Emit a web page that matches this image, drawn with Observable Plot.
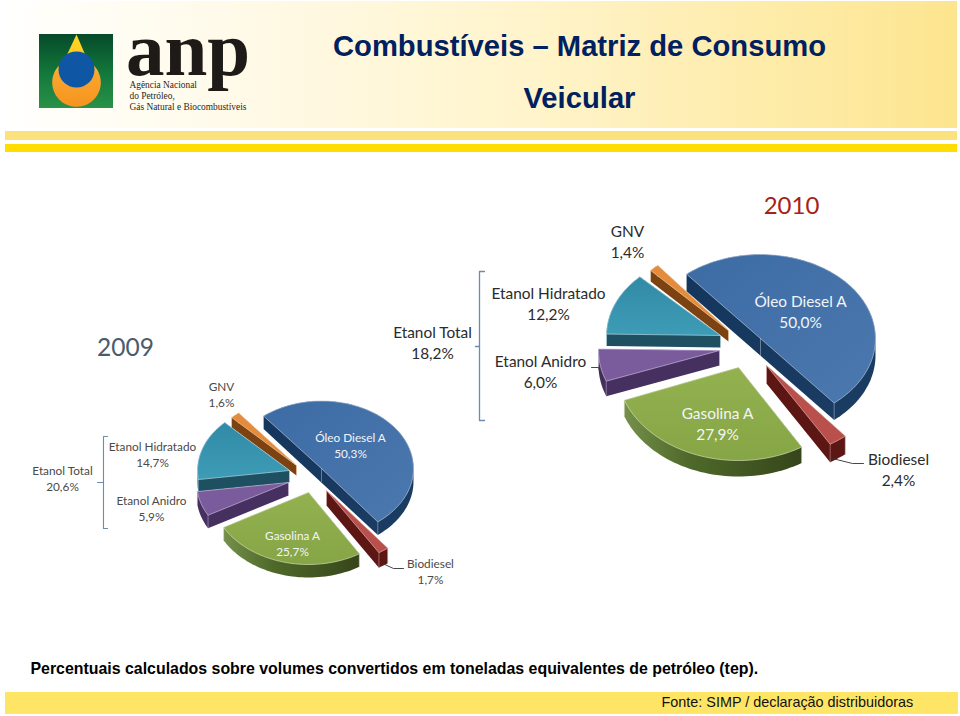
<!DOCTYPE html>
<html lang="pt">
<head>
<meta charset="utf-8">
<script src="https://cdn.jsdelivr.net/npm/d3@7"></script>
<script src="https://cdn.jsdelivr.net/npm/@observablehq/plot@0.6"></script>
<style>
html,body{margin:0;padding:0;background:#fff;overflow:hidden}
svg{display:block}
</style>
</head>
<body>
<div id="chart"></div>
<script>
// ---------- data ----------
const fuels = ["Óleo Diesel A", "Biodiesel", "Gasolina A", "Etanol Anidro", "Etanol Hidratado", "GNV"];
const values2009 = [50.3, 1.7, 25.7, 5.9, 14.7, 1.6];
const values2010 = [50.0, 2.4, 27.9, 6.0, 12.2, 1.4];
const etanolTotal2009 = 20.6;
const etanolTotal2010 = 18.2;
const titleText = "Combustíveis – Matriz de Consumo";
const subtitleText = "Veicular";
const noteText = "Percentuais calculados sobre volumes convertidos em toneladas equivalentes de petróleo (tep).";
const sourceText = "Fonte: SIMP / declaração distribuidoras";

// ---------- layout (per fuel, same order as above): [cx, cy, rx, ry, depth] ----------
const start2009 = -39, start2010 = -40;
const geom2009 = [[321,468,92,67.5,13],[326,490,100,73,15],[308,492,97,72,13],[288,482,92,67.5,13],[289,470,92,67.5,12],[296,465,92,67.5,10]];
const geom2010 = [[760,338,115,84,17],[766,365,123,92,18],[738,367,122,93,16],[719,350,121,87,15],[720,335,114,83,12],[728,330,110,85,11]];
const topColors = ["url(#gDiesel)","#B9504C","url(#gGas)","#7A5C9C","url(#gHid)","#E58C3C"];
const sideColors = ["url(#sDiesel)","#5C1614","url(#sGas)","#45305F","#1E5062","#7C4212"];
const edgeColors = ["#B7C7DC","#E3B3B0","#D5E0B8","#C9BBDB","#B5DAE5","#F5CFA6"];
const paintOrder = [5,0,4,3,1,2];

// ---------- helpers ----------
const fmt = v => v.toFixed(1).replace(".", ",") + "%";
function wedges(values, start, geom) {
  const total = d3.sum(values);
  let a = start;
  return values.map((v, i) => {
    const a0 = a, a1 = a + v / total * 360; a = a1;
    const [cx, cy, rx, ry, depth] = geom[i];
    const n = Math.max(4, Math.ceil((a1 - a0) / 2));
    const arc = d3.range(n + 1).map(k => {
      const t = (a0 + (a1 - a0) * k / n) * Math.PI / 180;
      return [cx + rx * Math.sin(t), cy - ry * Math.cos(t)];
    });
    return {i, cx, cy, depth, arc, top: [[cx, cy], ...arc]};
  });
}
const pts = a => a.map(([x, y]) => ({x, y}));
const poly = (a, fill, extra = {}) => Plot.line(pts(a), {x: "x", y: "y", fill, stroke: "none", ...extra});
const path = (a, stroke, strokeWidth = 1, extra = {}) => Plot.line(pts(a), {x: "x", y: "y", stroke, strokeWidth, ...extra});
const box = (x1, y1, x2, y2, fill) => Plot.rect([{x1, y1, x2, y2}], {x1: "x1", y1: "y1", x2: "x2", y2: "y2", fill});
const label = (text, x, y, o = {}) => Plot.text([{text, x, y}], {x: "x", y: "y", text: "text", fontFamily: "Lato", fontSize: 12, fill: "#404040", lineHeight: 1, ...o});

function pieMarks(values, start, geom) {
  const ws = wedges(values, start, geom);
  return paintOrder.flatMap(k => {
    const w = ws[k];
    const d = w.depth;
    const low = w.top.map(([x, y]) => [x, y + d]);
    const hull = d3.polygonHull([...w.top, ...low]);
    const first = w.arc[0], last = w.arc[w.arc.length - 1];
    const creases = [[w.cx, w.cy], first, last]
      .filter(p => p === last || p[1] > w.cy - 5 || k === 4)
      .map(p => path([p, [p[0], p[1] + d]], edgeColors[k], 0.7, {strokeOpacity: 0.7}));
    const loop = [...w.top, w.top[0]];
    return [
      poly(hull, sideColors[k]),
      ...creases,
      poly(w.top, topColors[k]),
      path(loop, edgeColors[k], 0.9, {strokeOpacity: 0.75})
    ];
  });
}

function defs() {
  const root = d3.create("svg:defs");
  const lin = (id, x2, y2, stops) => {
    const g = root.append("linearGradient").attr("id", id).attr("x1", 0).attr("y1", 0).attr("x2", x2).attr("y2", y2);
    stops.forEach(([o, c]) => g.append("stop").attr("offset", o).attr("stop-color", c));
  };
  lin("gHeader", 1, 0, [[0, "#FFFFFD"], [0.25, "#FFFAE8"], [0.55, "#FFF4CB"], [1, "#FDE58F"]]);
  lin("gSquare", 0, 1, [[0, "#064A2A"], [0.55, "#137A3C"], [1, "#2A9148"]]);
  lin("gDrop", 0, 1, [[0, "#FFD720"], [0.4, "#FFC42A"], [0.55, "#F9A62E"], [1, "#F6931E"]]);
  lin("gDiesel", 1, 1, [[0, "#3D6BA4"], [1, "#4B78AE"]]);
  lin("gGas", 0, 1, [[0, "#93B14F"], [1, "#86A546"]]);
  lin("gHid", 0, 1, [[0, "#318AA6"], [1, "#3E9CB6"]]);
  lin("sDiesel", 1, 1, [[0, "#14365C"], [1, "#1C3D63"]]);
  lin("sGas", 1, 0, [[0, "#74904A"], [0.35, "#4F6A2A"], [1, "#36451A"]]);
  return root.node();
}

// ---------- logo drop outline from its circle and tip ----------
const dropOutline = [[76, 34], ...d3.range(-62, 243, 5).map(t => {
  const r = t * Math.PI / 180;
  return [76 + 24.3 * Math.cos(r), 82 + 24.3 * Math.sin(r)];
})];

const pie09 = pieMarks(values2009, start2009, geom2009);
const pie10 = pieMarks(values2010, start2010, geom2010);

const idx = n => fuels.indexOf(n);
const white = {fill: "#F2F5F8"};
const small = {fontSize: 11.8, lineHeight: 1.36, letterSpacing: "0.3px", fill: "#4A4A4A"};
const big = {fontSize: 15.4, lineHeight: 1.36, letterSpacing: "0.2px", fill: "#2B2B2B"};
const bracket = "#6C8CAE";
const titleFont = {fontFamily: "Liberation Sans", fontWeight: "bold", fontSize: 29.2, fill: "#002060"};

const plot = Plot.plot({
  width: 960, height: 716, margin: 0,
  x: {domain: [0, 960], range: [0, 960], axis: null},
  y: {domain: [0, 716], range: [0, 716], axis: null},
  marks: [
    defs,
    // header
    box(5, 1, 957, 128, "url(#gHeader)"),
    box(5, 131, 957, 140, "#FCE27C"),
    box(5, 144, 957, 152, "#FFDD00"),
    // logo
    box(39, 34, 113, 108, "url(#gSquare)"),
    poly(dropOutline, "url(#gDrop)"),
    Plot.dot([{x: 76, y: 69}], {x: "x", y: "y", r: 18, fill: "#0F57A5"}),
    label("anp", 187.5, 50, {fontFamily: "Liberation Serif", fontWeight: "bold", fontSize: 77, fill: "#1E1A17", letterSpacing: "-5px"}),
    label("Agência Nacional\ndo Petróleo,\nGás Natural e Biocombustíveis", 129, 95, {textAnchor: "start", fontFamily: "Liberation Serif", fontSize: 9.4, lineHeight: 1.2, letterSpacing: "-0.15px", fill: "#2A2622"}),
    // titles
    label(titleText, 579, 46, titleFont),
    label(subtitleText, 579, 98, titleFont),
    // years
    label("2009", 125, 348, {fontSize: 24.5, fill: "#4A5B6B"}),
    label("2010", 791, 206, {fontSize: 24, fill: "#A8201A"}),
    // pies
    ...pie09,
    ...pie10,
    // brackets and leaders
    path([[107,436],[103,436],[103,528],[107,528]], bracket, 1.1),
    path([[97,482],[103,482]], bracket, 1.1),
    path([[484,271],[479,271],[479,420],[484,420]], bracket, 1.3),
    path([[475,346],[479,346]], bracket, 1.3),
    path([[382,563],[393,568],[403,568]], "#333", 0.9),
    path([[591,367],[598,367],[603,382]], "#333", 0.9),
    path([[832,458],[852,463],[863,463]], "#333", 0.9),
    // 2009 labels
    label(`GNV\n${fmt(values2009[idx("GNV")])}`, 221, 393, small),
    label(`Etanol Total\n${fmt(etanolTotal2009)}`, 62, 477, small),
    label(`Etanol Hidratado\n${fmt(values2009[idx("Etanol Hidratado")])}`, 152, 453.5, small),
    label(`Etanol Anidro\n${fmt(values2009[idx("Etanol Anidro")])}`, 151, 507, small),
    label(`Óleo Diesel A\n${fmt(values2009[idx("Óleo Diesel A")])}`, 350, 444, {...small, ...white}),
    label(`Gasolina A\n${fmt(values2009[idx("Gasolina A")])}`, 292, 542, {...small, ...white}),
    label(`Biodiesel\n${fmt(values2009[idx("Biodiesel")])}`, 430, 570, small),
    // 2010 labels
    label(`GNV\n${fmt(values2010[idx("GNV")])}`, 627, 240, big),
    label(`Etanol Total\n${fmt(etanolTotal2010)}`, 432, 341, big),
    label(`Etanol Hidratado\n${fmt(values2010[idx("Etanol Hidratado")])}`, 548, 302, big),
    label(`Etanol Anidro\n${fmt(values2010[idx("Etanol Anidro")])}`, 540, 370, big),
    label(`Óleo Diesel A\n${fmt(values2010[idx("Óleo Diesel A")])}`, 800, 310, {...big, ...white}),
    label(`Gasolina A\n${fmt(values2010[idx("Gasolina A")])}`, 717, 422, {...big, ...white}),
    label(`Biodiesel\n${fmt(values2010[idx("Biodiesel")])}`, 898, 468, big),
    // footer
    label(noteText, 30, 668, {textAnchor: "start", fontFamily: "Liberation Sans", fontWeight: "bold", fontSize: 15.9, fill: "#000"}),
    box(5, 692, 958, 714, "#FFE566"),
    label(sourceText, 661, 702, {textAnchor: "start", fontFamily: "Liberation Sans", fontSize: 14.4, fill: "#111"})
  ]
});
document.getElementById("chart").append(plot);
</script>
</body>
</html>
